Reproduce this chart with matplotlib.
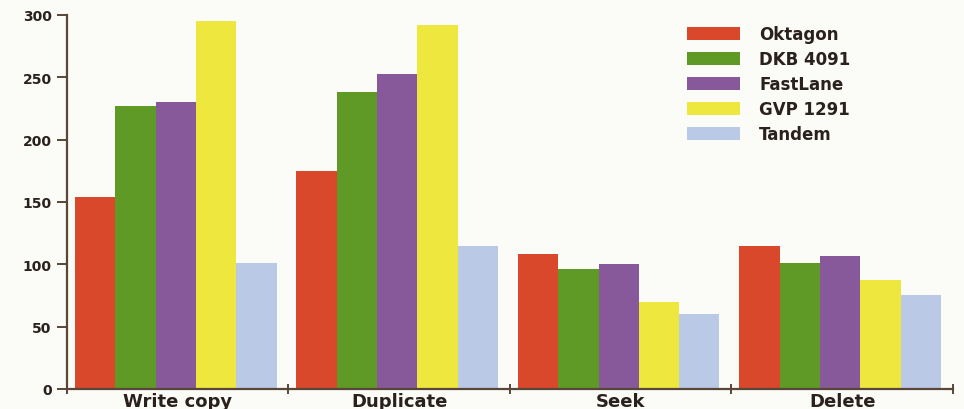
import matplotlib
matplotlib.use("Agg")
import matplotlib.pyplot as plt
import numpy as np
from matplotlib.patches import Patch

categories = ["Write copy", "Duplicate", "Seek", "Delete"]
series = ["Oktagon", "DKB 4091", "FastLane", "GVP 1291", "Tandem"]
oktagon = [154, 175, 108, 115]
dkb4091 = [227, 238, 96, 101]
fastlane = [230, 253, 100, 107]
gvp1291 = [295, 292, 70, 87]
tandem = [101, 115, 60, 75]
yticks = [0, 50, 100, 150, 200, 250, 300]

values = [oktagon, dkb4091, fastlane, gvp1291, tandem]
colors = ["#d9482a", "#5f9a26", "#87599a", "#eee83e", "#b9c9e6"]
axis_col = "#5a4638"
text_col = "#2a201c"

fig = plt.figure(figsize=(9.64, 4.10), dpi=100, facecolor="#fbfbf8")
ax = fig.add_axes([0.0695, 0.049, 0.919, 0.912])
ax.set_facecolor("#fbfbf8")

x = np.arange(len(categories))
w = 0.182
start = -0.464
for i, (vals, c) in enumerate(zip(values, colors)):
    ax.bar(x + start + w * i, vals, width=w, color=c, align="edge",
           linewidth=0, label=series[i])

ax.set_xlim(-0.5, len(categories) - 0.5)
ax.set_ylim(0, 300)
for s in ["top", "right"]:
    ax.spines[s].set_visible(False)
for s in ["left", "bottom"]:
    ax.spines[s].set_color(axis_col)
    ax.spines[s].set_linewidth(1.6)

ax.set_yticks(yticks)
ax.set_yticklabels([str(v) for v in yticks], fontsize=10, fontweight="heavy", color=text_col)
ax.tick_params(axis="y", direction="out", length=7, width=1.4, color=axis_col, pad=4)

ax.set_xticks(np.arange(len(categories) + 1) - 0.5, minor=False)
ax.set_xticklabels([])
ax.tick_params(axis="x", direction="inout", length=7, width=1.4, color=axis_col)
ax.set_xticks(x, minor=True)
ax.set_xticklabels(categories, minor=True, fontsize=13, fontweight="heavy", color=text_col)
ax.tick_params(axis="x", which="minor", length=0, pad=2)

handles = [Patch(facecolor=c, edgecolor="none") for c in colors]
leg = ax.legend(handles, series, loc="upper left", bbox_to_anchor=(0.688, 1.0),
                frameon=False, fontsize=12, handlelength=3.2, handleheight=0.85,
                labelspacing=0.42, handletextpad=1.15, borderaxespad=0.2)
for t in leg.get_texts():
    t.set_fontweight("heavy")
    t.set_color(text_col)

fig.savefig("out.png", dpi=100, facecolor=fig.get_facecolor())
